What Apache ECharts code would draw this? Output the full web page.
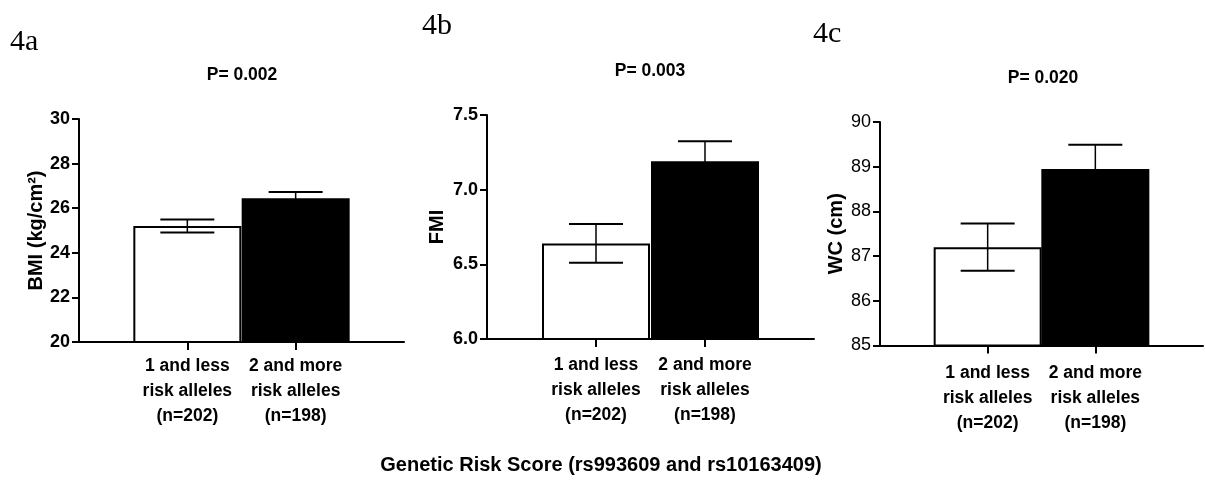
<!DOCTYPE html>
<html>
<head>
<meta charset="utf-8">
<script src="https://cdn.jsdelivr.net/npm/echarts@6/dist/echarts.min.js"></script>
<style>
html,body{margin:0;padding:0;background:#fff;}
#c{width:1206px;height:486px;}
</style>
</head>
<body>
<div id="c"></div>
<script>
// ---- data ----
const categories = ['1 and less\nrisk alleles\n(n=202)', '2 and more\nrisk alleles\n(n=198)'];
const panelLabels = ['4a', '4b', '4c'];
const pValues = ['P= 0.002', 'P= 0.003', 'P= 0.020'];
const yNames = ['BMI (kg/cm²)', 'FMI', 'WC (cm)'];
const bmiMean = [25.2, 26.45];
const bmiSem = [0.29, 0.28];
const fmiMean = [6.64, 7.19];
const fmiSem = [0.13, 0.135];
const wcMean = [87.2, 88.95];
const wcSem = [0.53, 0.54];
const bmiTicks = [20, 30, 2];
const fmiTicks = [6.0, 7.5, 0.5];
const wcTicks = [85, 90, 1];
const xTitle = 'Genetic Risk Score (rs993609 and rs10163409)';

const F = 'Liberation Sans';
const means = [bmiMean, fmiMean, wcMean];
const sems = [bmiSem, fmiSem, wcSem];
const ticks = [bmiTicks, fmiTicks, wcTicks];
const grids = [
  {left: 79, top: 119, width: 325, height: 223},
  {left: 487, top: 115, width: 327, height: 224},
  {left: 880, top: 122, width: 330, height: 223.5}
];
const labelMargins = [12, 14, 15];
const nameGaps = [33, 40, 34];
const tickBold = ['bold', 'bold', 'normal'];
const decimals = [0, 1, 0];
const axisCats = [''].concat(categories).concat(['']);

const chart = echarts.init(document.getElementById('c'), null, {renderer: 'canvas'});
const option = {
  animation: false,
  grid: grids.map(g => Object.assign({containLabel: false}, g)),
  xAxis: grids.map((g, i) => ({
    gridIndex: i,
    type: 'category',
    data: axisCats,
    boundaryGap: false,
    axisLine: {lineStyle: {color: '#000', width: 2}},
    axisTick: {show: true, length: 8, lineStyle: {color: '#000', width: 2},
      interval: (idx) => idx === 1 || idx === 2},
    axisLabel: {interval: 0, color: '#000', fontFamily: F, fontWeight: 'bold', fontSize: 17.5,
      lineHeight: 25, margin: labelMargins[i]},
    splitLine: {show: false}
  })),
  yAxis: grids.map((g, i) => ({
    gridIndex: i,
    type: 'value',
    min: ticks[i][0], max: ticks[i][1], interval: ticks[i][2],
    name: yNames[i],
    nameLocation: 'middle',
    nameRotate: 90,
    nameGap: nameGaps[i],
    nameTextStyle: {color: '#000', fontFamily: F, fontWeight: 'bold', fontSize: 20},
    axisLine: {show: true, lineStyle: {color: '#000', width: 2}},
    axisTick: {show: true, length: 7, lineStyle: {color: '#000', width: 2}},
    axisLabel: {color: '#000', fontFamily: F, fontWeight: tickBold[i], fontSize: 18, margin: 9,
      formatter: v => v.toFixed(decimals[i])},
    splitLine: {show: false}
  })),
  series: [],
  graphic: []
};

for (let i = 0; i < 3; i++) {
  option.series.push({
    type: 'bar',
    xAxisIndex: i, yAxisIndex: i,
    barWidth: 108,
    z: 2,
    data: ['-'].concat(means[i].map((v, k) => ({
      value: v,
      itemStyle: k === 0
        ? {color: '#fff', borderColor: '#000', borderWidth: 2}
        : {color: '#000', borderColor: '#000', borderWidth: 2}
    }))).concat(['-'])
  });
  option.series.push({
    type: 'custom',
    xAxisIndex: i, yAxisIndex: i,
    z: 5,
    encode: {x: 0, y: 1},
    data: means[i].map((v, k) => [k + 1, v, sems[i][k]]),
    renderItem: function (params, api) {
      const x = api.value(0), m = api.value(1), s = api.value(2);
      const top = api.coord([x, m + s]);
      const bot = api.coord([x, m - s]);
      const hw = 27;
      const st = {stroke: '#000', lineWidth: 2};
      return {
        type: 'group',
        children: [
          {type: 'line', shape: {x1: top[0], y1: top[1], x2: bot[0], y2: bot[1]}, style: {stroke: '#000', lineWidth: 1.5}},
          {type: 'line', shape: {x1: top[0] - hw, y1: top[1], x2: top[0] + hw, y2: top[1]}, style: st},
          {type: 'line', shape: {x1: bot[0] - hw, y1: bot[1], x2: bot[0] + hw, y2: bot[1]}, style: st}
        ]
      };
    }
  });
}

const pPos = [[242, 75], [650, 71], [1043, 78]];
const lblPos = [[10, 42], [422, 26], [813, 34]];
for (let i = 0; i < 3; i++) {
  option.graphic.push({
    type: 'text', x: pPos[i][0], y: pPos[i][1],
    style: {text: pValues[i], fill: '#000', font: 'bold 17.5px "Liberation Sans"', align: 'center', verticalAlign: 'middle'}
  });
  option.graphic.push({
    type: 'text', x: lblPos[i][0], y: lblPos[i][1],
    style: {text: panelLabels[i], fill: '#000', font: '30px "Liberation Serif"', align: 'left', verticalAlign: 'middle'}
  });
}
option.graphic.push({
  type: 'text', x: 601, y: 465,
  style: {text: xTitle, fill: '#000', font: 'bold 20px "Liberation Sans"', align: 'center', verticalAlign: 'middle'}
});

chart.setOption(option);
</script>
</body>
</html>
